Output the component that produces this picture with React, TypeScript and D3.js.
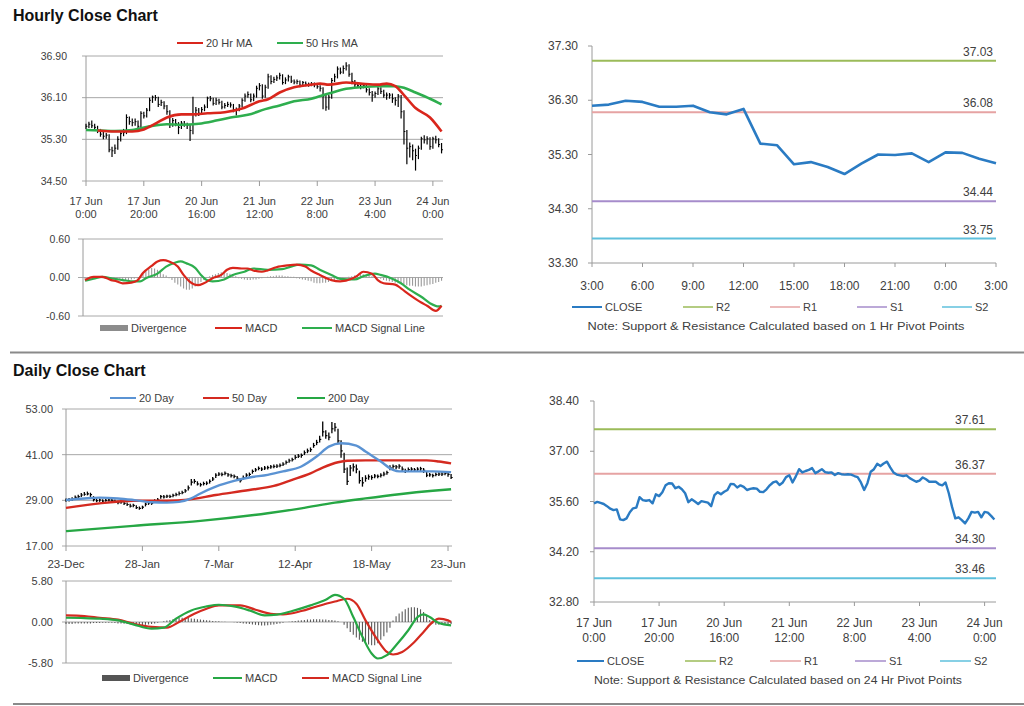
import React from 'react';
import * as d3 from 'd3';

const FONT = "'Liberation Sans', Arial, Helvetica, sans-serif";
const AXIS = '#9a9a9a';
const GRID = '#a8a8a8';
const TEXT = '#404040';

// ---------- Hourly data (17 Jun 0:00 .. 24 Jun 3:00, 124 points) ----------
const hourlyTickIdx = [0, 20, 40, 60, 80, 100, 120];
const hourlyTickTop = ['17 Jun', '17 Jun', '20 Jun', '21 Jun', '22 Jun', '23 Jun', '24 Jun'];
const hourlyTickBottom = ['0:00', '20:00', '16:00', '12:00', '8:00', '4:00', '0:00'];

const hourlyClose = [
  35.55, 35.59, 35.56, 35.53, 35.47, 35.40, 35.36, 35.38, 35.10, 35.08,
  35.13, 35.30, 35.41, 35.43, 35.72, 35.64, 35.62, 35.64, 35.55, 35.80,
  35.75, 35.86, 36.05, 36.11, 36.10, 35.97, 36.01, 35.94, 35.83, 35.58,
  35.66, 35.60, 35.53, 35.61, 35.59, 35.57, 35.47, 35.78, 35.86, 35.80,
  35.87, 35.92, 36.09, 36.08, 35.99, 36.05, 36.01, 35.92, 35.95, 35.97,
  35.96, 35.87, 35.86, 35.94, 36.05, 36.13, 36.16, 36.06, 36.13, 36.28,
  36.33, 36.13, 36.30, 36.50, 36.41, 36.45, 36.48, 36.53, 36.39, 36.44,
  36.50, 36.42, 36.40, 36.41, 36.34, 36.39, 36.36, 36.35, 36.36, 36.35,
  36.31, 36.28, 36.13, 35.92, 36.11, 36.43, 36.50, 36.65, 36.59, 36.66,
  36.71, 36.55, 36.41, 36.35, 36.33, 36.31, 36.33, 36.25, 36.20, 36.15,
  36.18, 36.27, 36.22, 36.15, 36.15, 36.15, 36.08, 36.05, 36.13, 35.83,
  35.45, 35.13, 35.16, 35.08, 34.99, 35.13, 35.31, 35.29, 35.31, 35.16,
  35.31, 35.29, 35.20, 35.10,
];
const hourlyHigh = [
  35.60, 35.64, 35.66, 35.60, 35.56, 35.50, 35.44, 35.42, 35.40, 35.16,
  35.20, 35.36, 35.46, 35.50, 35.78, 35.74, 35.70, 35.70, 35.66, 35.84,
  35.83, 35.90, 36.10, 36.14, 36.15, 36.12, 36.06, 36.03, 35.96, 35.86,
  35.71, 35.69, 35.63, 35.65, 35.65, 35.62, 35.60, 36.12, 35.92, 35.90,
  35.92, 35.97, 36.12, 36.13, 36.10, 36.10, 36.08, 36.04, 36.00, 36.02,
  36.01, 35.98, 35.91, 35.98, 36.09, 36.18, 36.22, 36.18, 36.18, 36.33,
  36.38, 36.36, 36.35, 36.56, 36.53, 36.50, 36.53, 36.58, 36.55, 36.49,
  36.54, 36.52, 36.45, 36.45, 36.43, 36.42, 36.41, 36.39, 36.40, 36.39,
  36.37, 36.34, 36.30, 36.15, 36.15, 36.48, 36.56, 36.70, 36.68, 36.72,
  36.78, 36.74, 36.58, 36.44, 36.38, 36.36, 36.37, 36.35, 36.28, 36.23,
  36.22, 36.31, 36.30, 36.25, 36.20, 36.19, 36.18, 36.11, 36.17, 36.15,
  35.86, 35.48, 35.24, 35.20, 35.12, 35.18, 35.35, 35.38, 35.36, 35.34,
  35.35, 35.37, 35.32, 35.23,
];
const hourlyLow = [
  35.50, 35.52, 35.52, 35.49, 35.42, 35.35, 35.30, 35.31, 35.05, 34.96,
  35.02, 35.10, 35.26, 35.36, 35.40, 35.58, 35.55, 35.56, 35.48, 35.52,
  35.70, 35.72, 35.84, 36.00, 36.04, 35.92, 35.94, 35.88, 35.77, 35.52,
  35.54, 35.55, 35.40, 35.50, 35.54, 35.50, 35.27, 35.40, 35.74, 35.75,
  35.77, 35.84, 35.90, 36.03, 35.95, 35.96, 35.97, 35.88, 35.89, 35.92,
  35.91, 35.82, 35.76, 35.84, 35.92, 36.02, 36.10, 36.01, 36.03, 36.10,
  36.24, 36.08, 36.10, 36.27, 36.36, 36.38, 36.42, 36.45, 36.35, 36.36,
  36.41, 36.38, 36.36, 36.36, 36.30, 36.31, 36.32, 36.31, 36.32, 36.30,
  36.27, 36.22, 35.88, 35.85, 35.87, 36.08, 36.40, 36.47, 36.55, 36.56,
  36.62, 36.50, 36.36, 36.30, 36.29, 36.26, 36.28, 36.20, 36.14, 36.02,
  36.10, 36.15, 36.17, 36.10, 36.06, 36.08, 36.00, 35.95, 35.92, 35.70,
  35.20, 34.82, 34.95, 34.90, 34.70, 34.92, 35.10, 35.22, 35.20, 35.10,
  35.12, 35.22, 35.15, 35.03,
];

const ma20hIdx = [4, 10, 16, 20, 24, 28, 33, 37, 42, 48, 54, 60, 63, 67, 72, 78, 81, 84, 90, 95, 101, 104, 107, 110, 114, 119, 123];
const ma20hVal = [35.47, 35.45, 35.45, 35.49, 35.60, 35.72, 35.78, 35.78, 35.80, 35.82, 35.89, 36.03, 36.07, 36.20, 36.30, 36.35, 36.37, 36.35, 36.39, 36.37, 36.35, 36.37, 36.32, 36.15, 35.90, 35.72, 35.45];
const ma50hIdx = [0, 5, 10, 16, 22, 28, 33, 39, 45, 50, 56, 62, 67, 72, 78, 84, 90, 95, 101, 107, 110, 114, 119, 123];
const ma50hVal = [35.48, 35.47, 35.46, 35.48, 35.55, 35.59, 35.58, 35.60, 35.66, 35.72, 35.77, 35.88, 35.95, 36.03, 36.08, 36.18, 36.27, 36.30, 36.32, 36.32, 36.29, 36.20, 36.08, 35.97];

const hMacdIdx = [0, 3, 6, 9, 11, 13, 16, 18, 20, 23, 25, 27, 29, 32, 34, 36, 39, 41, 44, 47, 49, 51, 54, 56, 58, 61, 63, 66, 70, 73, 76, 78, 81, 85, 88, 92, 94, 96, 99, 101, 103, 107, 109, 112, 116, 118, 121, 123];
const hMacdVal = [-0.04, 0.01, 0.01, -0.04, -0.06, -0.09, -0.08, -0.05, 0.07, 0.18, 0.25, 0.27, 0.25, 0.17, 0.04, -0.06, -0.12, -0.09, -0.01, 0.04, 0.12, 0.15, 0.14, 0.14, 0.11, 0.09, 0.11, 0.16, 0.19, 0.20, 0.17, 0.11, 0.04, -0.04, -0.06, -0.02, 0.03, 0.09, 0.06, -0.04, -0.09, -0.11, -0.17, -0.27, -0.39, -0.44, -0.52, -0.44];
const hSigIdx = [0, 3, 6, 10, 13, 17, 19, 21, 25, 28, 31, 33, 35, 38, 40, 42, 44, 48, 51, 55, 58, 63, 68, 71, 74, 78, 81, 85, 88, 93, 96, 100, 102, 106, 109, 112, 116, 119, 122, 123];
const hSigVal = [-0.05, -0.02, 0.01, -0.02, -0.04, -0.06, -0.06, -0.01, 0.06, 0.17, 0.23, 0.25, 0.22, 0.15, 0.04, -0.04, -0.06, -0.03, 0.04, 0.09, 0.14, 0.12, 0.13, 0.17, 0.20, 0.19, 0.12, 0.04, -0.02, -0.03, 0.02, 0.06, 0.04, -0.02, -0.09, -0.19, -0.30, -0.40, -0.45, -0.44];
const hDiv = [
  -0.02, -0.02, -0.01, -0.01, 0, 0,
  -0.01, -0.02, -0.02, -0.03, -0.03, -0.03, -0.02,
  -0.03, -0.04, -0.04, -0.03, -0.02, -0.01,
  0.02, 0.06, 0.10, 0.13, 0.15, 0.14, 0.12, 0.08, 0.05, 0.03,
  -0.01, -0.04, -0.08, -0.11, -0.14, -0.17, -0.19, -0.19, -0.17, -0.14, -0.10, -0.07, -0.04,
  0, 0.02, 0.04, 0.05, 0.07, 0.08, 0.08, 0.07, 0.06, 0.04, 0.02,
  -0.01, -0.02, -0.03, -0.04, -0.04, -0.03, -0.03, -0.02, -0.01, 0,
  0.01, 0.02, 0.02, 0.03, 0.03, 0.03, 0.02, 0.02, 0.01, 0.01,
  -0.01, -0.02, -0.03, -0.04, -0.05, -0.06, -0.08, -0.09, -0.09, -0.08, -0.08, -0.07, -0.05, -0.04, -0.03, -0.02, -0.01, 0,
  0.01, 0.02, 0.03, 0.04, 0.05, 0.05, 0.04, 0.03, 0.02, 0.01,
  -0.01, -0.02, -0.04, -0.05, -0.06, -0.07, -0.08, -0.09, -0.10, -0.11, -0.12, -0.13, -0.13, -0.14, -0.14, -0.14, -0.13, -0.12, -0.11, -0.10, -0.08, -0.07, -0.05,
];

// ---------- Last 24 hours (3:00 .. 3:00) ----------
const dayHourLabels = ['3:00', '6:00', '9:00', '12:00', '15:00', '18:00', '21:00', '0:00', '3:00'];
const last24Close = [36.20, 36.22, 36.29, 36.27, 36.18, 36.18, 36.20, 36.08, 36.04, 36.14, 35.50, 35.47, 35.12, 35.16, 35.07, 34.94, 35.13, 35.30, 35.29, 35.32, 35.16, 35.34, 35.33, 35.22, 35.14];
const pivotNames = ['R2', 'R1', 'S1', 'S2'];
const pivotColors = ['#9bbb59', '#e6a3a3', '#a68ccb', '#5fc0dc'];
const pivots1h = [37.03, 36.08, 34.44, 33.75];
const pivots24h = [37.61, 36.37, 34.30, 33.46];

// ---------- Daily data (23-Dec .. 24-Jun, 127 points) ----------
const dailyTickIdx = [0, 25, 50, 75, 100, 125];
const dailyTickLabels = ['23-Dec', '28-Jan', '7-Mar', '12-Apr', '18-May', '23-Jun'];
const dailyClose = [
  29.0, 29.1, 29.3, 29.8, 30.0, 30.4, 30.6, 30.7, 30.5, 29.2,
  28.9, 29.1, 28.8, 29.0, 29.1, 29.0, 28.7, 28.4, 28.6, 28.2,
  27.9, 27.5, 27.7, 27.1, 26.9, 27.2, 28.0, 28.3, 28.2, 28.9,
  29.1, 30.0, 29.9, 30.1, 30.0, 30.3, 30.5, 30.8, 31.0, 31.5,
  32.3, 33.8, 34.0, 33.3, 33.1, 33.4, 33.5, 34.0, 34.6, 35.6,
  35.9, 35.8, 36.1, 35.7, 35.5, 35.3, 34.8, 34.2, 35.0, 35.6,
  35.8, 36.6, 37.0, 37.4, 37.2, 37.5, 37.6, 37.8, 37.9, 38.0,
  38.2, 38.5, 39.0, 39.4, 39.7, 40.3, 40.6, 40.8, 41.5, 42.0,
  42.3, 43.4, 44.2, 45.0, 47.0, 46.0, 45.6, 47.8, 48.2, 44.6,
  42.0, 37.2, 34.0, 37.5, 37.8, 37.2, 34.2, 33.6, 34.8, 35.2,
  35.0, 35.4, 35.3, 35.6, 35.9, 36.3, 37.6, 37.9, 37.8, 38.0,
  37.2, 36.7, 37.1, 37.2, 37.0, 37.2, 37.3, 36.9, 35.6, 35.7,
  35.5, 35.8, 35.9, 35.9, 36.1, 35.8, 35.0,
];
const dailyHigh = [
  29.5, 29.6, 29.8, 30.3, 30.5, 30.9, 31.2, 31.3, 31.0, 30.1,
  29.5, 29.5, 29.3, 29.4, 29.6, 29.4, 29.2, 28.9, 29.0, 28.8,
  28.4, 28.1, 28.1, 27.7, 27.4, 27.6, 28.4, 28.7, 28.7, 29.3,
  29.6, 30.4, 30.4, 30.5, 30.5, 30.7, 31.0, 31.3, 31.5, 32.0,
  32.9, 34.6, 34.6, 34.0, 33.6, 33.9, 34.0, 34.5, 35.1, 36.1,
  36.4, 36.3, 36.6, 36.2, 36.0, 35.8, 35.4, 34.9, 35.5, 36.1,
  36.3, 37.1, 37.5, 37.9, 37.7, 38.0, 38.1, 38.3, 38.4, 38.5,
  38.7, 39.0, 39.5, 39.9, 40.2, 40.9, 41.2, 41.3, 42.1, 42.6,
  42.9, 44.1, 44.9, 46.0, 49.7, 47.4, 46.8, 49.6, 49.3, 47.8,
  44.8, 41.5, 37.6, 38.3, 38.7, 38.4, 36.8, 35.1, 35.6, 35.8,
  35.6, 35.9, 35.8, 36.1, 36.5, 36.8, 38.2, 38.4, 38.3, 38.5,
  37.9, 37.3, 37.6, 37.7, 37.5, 37.7, 37.8, 37.5, 36.5, 36.2,
  36.0, 36.3, 36.4, 36.4, 36.6, 36.3, 35.9,
];
const dailyLow = [
  28.6, 28.7, 28.9, 29.3, 29.6, 29.9, 30.2, 30.3, 29.9, 28.7,
  28.5, 28.6, 28.4, 28.6, 28.7, 28.5, 28.3, 28.0, 28.1, 27.8,
  27.5, 27.1, 27.2, 26.7, 26.5, 26.7, 27.4, 27.8, 27.8, 28.4,
  28.7, 29.4, 29.5, 29.6, 29.6, 29.8, 30.1, 30.3, 30.6, 31.0,
  31.6, 32.9, 33.4, 32.9, 32.6, 32.9, 33.0, 33.4, 34.1, 34.9,
  35.4, 35.3, 35.6, 35.2, 35.0, 34.8, 34.3, 33.7, 34.4, 35.0,
  35.3, 36.0, 36.5, 36.9, 36.7, 37.0, 37.1, 37.3, 37.4, 37.5,
  37.7, 38.0, 38.4, 38.9, 39.2, 39.7, 40.1, 40.2, 40.9, 41.4,
  41.7, 42.8, 43.5, 44.2, 45.8, 45.2, 44.8, 46.6, 47.1, 43.8,
  40.2, 36.2, 33.0, 35.4, 36.6, 36.1, 33.4, 32.6, 33.9, 34.4,
  34.4, 34.8, 34.8, 35.0, 35.3, 35.7, 36.9, 37.3, 37.2, 37.3,
  36.6, 36.2, 36.6, 36.7, 36.5, 36.7, 36.7, 36.2, 35.1, 35.2,
  35.0, 35.3, 35.4, 35.4, 35.6, 35.2, 34.6,
];
const ma20dIdx = [0, 6, 11, 17, 22, 28, 33, 37, 41, 44, 49, 55, 60, 66, 71, 77, 82, 86, 90, 95, 98, 103, 107, 109, 115, 120, 126];
const ma20dVal = [29.1, 29.5, 29.7, 29.5, 29.1, 28.5, 28.4, 28.6, 29.5, 30.8, 32.6, 34.1, 35.0, 35.7, 36.6, 37.9, 40.5, 43.1, 44.0, 43.4, 41.8, 39.2, 37.0, 36.6, 36.6, 36.6, 36.4];
const ma50dIdx = [0, 11, 22, 33, 40, 49, 60, 68, 74, 80, 84, 89, 92, 98, 109, 118, 122, 126];
const ma50dVal = [27.0, 28.2, 28.9, 28.9, 29.2, 30.4, 31.7, 32.8, 34.4, 36.1, 37.6, 39.0, 39.4, 39.5, 39.5, 39.5, 39.2, 38.7];
const ma200dIdx = [0, 22, 44, 66, 77, 88, 98, 109, 120, 126];
const ma200dVal = [20.9, 22.3, 23.6, 25.6, 26.9, 28.4, 29.5, 30.6, 31.5, 31.9];

const dMacdIdx = [0, 6, 11, 17, 22, 28, 32, 36, 41, 46, 50, 55, 60, 65, 69, 74, 80, 85, 88, 91, 94, 97, 100, 102, 105, 108, 112, 115, 117, 119, 122, 126];
const dMacdVal = [0.6, 0.56, 0.47, 0.23, -0.33, -0.94, -0.8, 0.47, 1.64, 2.2, 2.44, 2.2, 1.64, 0.94, 1.03, 1.55, 2.35, 3.15, 3.85, 3.29, 0.7, -2.1, -4.46, -5.16, -4.7, -3.29, -1.17, 0.7, 1.08, 0.7, -0.14, -0.47];
const dSigIdx = [0, 6, 11, 17, 22, 28, 33, 37, 42, 46, 50, 57, 62, 67, 71, 77, 82, 88, 92, 95, 98, 102, 105, 107, 110, 114, 117, 120, 122, 125, 126];
const dSigVal = [0.94, 0.85, 0.6, 0.33, -0.23, -0.7, -0.8, 0, 1.17, 1.88, 2.35, 2.35, 1.74, 1.17, 1.08, 1.55, 2.2, 2.9, 3.29, 2.58, 0.23, -2.58, -4.23, -4.6, -4.23, -2.82, -1.4, 0, 0.47, 0.23, 0.0];
const dDiv = [
  -0.3, -0.3, -0.3, -0.2, -0.2, -0.2, -0.2, -0.2, -0.2, -0.15, -0.15,
  -0.15, -0.1, -0.1, -0.1, -0.1, -0.15, -0.2, -0.2, -0.25, -0.3, -0.35, -0.4, -0.4, -0.45, -0.45, -0.4, -0.35, -0.3,
  -0.2, -0.1, 0, 0.1,
  0.2, 0.3, 0.4, 0.5, 0.55, 0.6, 0.6, 0.55, 0.5, 0.45, 0.4, 0.35, 0.3, 0.25, 0.2, 0.15,
  0.1, 0.1, 0.05, 0.05, 0, 0, -0.05, -0.1, -0.15, -0.2,
  -0.25, -0.3, -0.35, -0.4, -0.45, -0.5, -0.5, -0.45, -0.4, -0.35, -0.3, -0.2, -0.1, 0,
  0.05, 0.1, 0.15, 0.2, 0.25, 0.3, 0.35, 0.35, 0.4, 0.4, 0.4, 0.35, 0.35, 0.3, 0.3, 0.2, 0.1, 0,
  -0.4, -0.9, -1.4, -1.8, -2.2, -2.5, -2.8, -3.0, -3.2, -3.3, -3.3, -3.0, -2.5, -2.0, -1.5, -0.8,
  0.2, 0.8, 1.2, 1.5, 1.8, 2.0, 2.1, 2.1, 2.0, 1.8, 1.4, 0.9,
  0.3, -0.2, -0.4, -0.4, -0.4, -0.4, -0.3, -0.3,
];

// tick values
const hPriceTicks = [34.5, 35.3, 36.1, 36.9];
const hMacdTicks = [-0.6, 0, 0.6];
const c1Ticks = [33.3, 34.3, 35.3, 36.3, 37.3];
const dPriceTicks = [17, 29, 41, 53];
const dMacdTicks = [-5.8, 0, 5.8];
const c2Ticks = [32.8, 34.2, 35.6, 37.0, 38.4];

type Pt = [number, number];
const zip = (a: number[], b: number[]): Pt[] => a.slice(0, Math.min(a.length, b.length)).map((v, i) => [v, b[i]] as Pt);
const seq = (vals: number[]): Pt[] => vals.map((v, i) => [i, v] as Pt);

function linePath(pts: Pt[], x: any, y: any, smooth: boolean) {
  const g = d3.line<Pt>().x((d) => x(d[0])).y((d) => y(d[1]));
  if (smooth) g.curve(d3.curveMonotoneX);
  return g(pts) || '';
}

function LegendLine({ x, y, w, color, label, sw = 2, fs = 11 }: any) {
  return (
    <g>
      <line x1={x} x2={x + w} y1={y} y2={y} stroke={color} strokeWidth={sw} />
      <text x={x + w + 3} y={y} dy="0.35em" fontSize={fs} fill={TEXT}>{label}</text>
    </g>
  );
}

export default function App() {
  // ---- Panel A: hourly price ----
  const xA = d3.scaleLinear().domain([0, 123.5]).range([86, 443]);
  const yA = d3.scaleLinear().domain([34.5, 36.9]).range([181, 56]);
  // ---- Panel B: hourly MACD ----
  const xB = d3.scaleLinear().domain([0, 123.5]).range([85, 443]);
  const yB = d3.scaleLinear().domain([-0.6, 0.6]).range([316, 239]);
  // ---- Panel C: last 24h ----
  const xC = d3.scaleLinear().domain([0, 24]).range([592, 996]);
  const yC = d3.scaleLinear().domain([33.3, 37.3]).range([263, 46]);
  // ---- Panel D: daily price ----
  const xD = d3.scaleLinear().domain([0, 126.3]).range([66, 452]);
  const yD = d3.scaleLinear().domain([17, 53]).range([546, 409]);
  // ---- Panel E: daily MACD ----
  const yE = d3.scaleLinear().domain([-5.8, 5.8]).range([663, 581]);
  // ---- Panel F: hourly close with 24h pivots ----
  const xF = d3.scaleLinear().domain([0, 123.5]).range([594, 996]);
  const yF = d3.scaleLinear().domain([32.8, 38.4]).range([602, 401]);

  const nH = Math.min(hourlyClose.length, hourlyHigh.length, hourlyLow.length);
  const nD = Math.min(dailyClose.length, dailyHigh.length, dailyLow.length);

  return (
    <svg width={1024} height={706} style={{ position: 'absolute', left: 0, top: 0, background: '#fff', fontFamily: FONT }}>
      <rect x={0} y={0} width={1024} height={706} fill="#fff" />

      {/* ===== Titles & dividers ===== */}
      <text x={13} y={21} fontSize={16} fontWeight="bold" fill="#111">Hourly Close Chart</text>
      <text x={13} y={376} fontSize={16} fontWeight="bold" fill="#111">Daily Close Chart</text>
      <line x1={10} x2={1024} y1={352.5} y2={352.5} stroke="#8a8a8a" strokeWidth={2} />
      <line x1={13} x2={1024} y1={704} y2={704} stroke="#8a8a8a" strokeWidth={2} />

      {/* ===== Panel A ===== */}
      <g>
        <LegendLine x={177} y={43} w={26} color="#d9261c" label="20 Hr MA" sw={2} />
        <LegendLine x={277} y={43} w={26} color="#2eae4e" label="50 Hrs MA" sw={2} />
        {hPriceTicks.map((t) => (
          <g key={t}>
            <line x1={82} x2={443} y1={yA(t)} y2={yA(t)} stroke={GRID} strokeWidth={1} />
            <text x={67} y={yA(t)} dy="0.35em" textAnchor="end" fontSize={10.5} fill={TEXT}>{t.toFixed(2)}</text>
          </g>
        ))}
        <line x1={86} x2={86} y1={56} y2={181} stroke={AXIS} />
        {hourlyTickIdx.map((i, k) => (
          <g key={i}>
            <line x1={xA(i)} x2={xA(i)} y1={181} y2={186} stroke={AXIS} />
            <text x={xA(i)} y={205} textAnchor="middle" fontSize={11} fill={TEXT}>{hourlyTickTop[k]}</text>
            <text x={xA(i)} y={218} textAnchor="middle" fontSize={11} fill={TEXT}>{hourlyTickBottom[k]}</text>
          </g>
        ))}
        {d3.range(nH).map((i) => (
          <g key={i}>
            <line x1={xA(i)} x2={xA(i)} y1={yA(hourlyHigh[i])} y2={yA(hourlyLow[i])} stroke="#000" strokeWidth={1.2} />
            <line x1={xA(i)} x2={xA(i) + 1.4} y1={yA(hourlyClose[i])} y2={yA(hourlyClose[i])} stroke="#000" strokeWidth={1} />
          </g>
        ))}
        <path d={linePath(zip(ma50hIdx, ma50hVal), xA, yA, true)} fill="none" stroke="#2eae4e" strokeWidth={2.6} />
        <path d={linePath(zip(ma20hIdx, ma20hVal), xA, yA, true)} fill="none" stroke="#d9261c" strokeWidth={2.6} />
      </g>

      {/* ===== Panel B ===== */}
      <g>
        {hMacdTicks.map((t) => (
          <g key={t}>
            <line x1={78} x2={443} y1={yB(t)} y2={yB(t)} stroke={GRID} />
            <text x={70} y={yB(t)} dy="0.35em" textAnchor="end" fontSize={10.5} fill={TEXT}>{t.toFixed(2)}</text>
          </g>
        ))}
        <line x1={83} x2={83} y1={239} y2={316} stroke={AXIS} />
        {hDiv.map((v, i) => (
          <line key={i} x1={xB(i)} x2={xB(i)} y1={yB(0)} y2={yB(v)} stroke="#9a9a9a" strokeWidth={1.1} />
        ))}
        <path d={linePath(zip(hSigIdx, hSigVal), xB, yB, true)} fill="none" stroke="#2eae4e" strokeWidth={2.2} />
        <path d={linePath(zip(hMacdIdx, hMacdVal), xB, yB, true)} fill="none" stroke="#d9261c" strokeWidth={2.2} />
        <rect x={100} y={325} width={28} height={6} fill="#8c8c8c" />
        <text x={131} y={328} dy="0.35em" fontSize={11} fill={TEXT}>Divergence</text>
        <LegendLine x={215} y={328} w={27} color="#d9261c" label="MACD" />
        <LegendLine x={302} y={328} w={30} color="#2eae4e" label="MACD Signal Line" />
      </g>

      {/* ===== Panel C ===== */}
      <g>
        <line x1={592} x2={592} y1={46} y2={263} stroke={AXIS} />
        <line x1={592} x2={996} y1={263} y2={263} stroke={AXIS} />
        {c1Ticks.map((t) => (
          <g key={t}>
            <line x1={588} x2={592} y1={yC(t)} y2={yC(t)} stroke={AXIS} />
            <text x={578} y={yC(t)} dy="0.35em" textAnchor="end" fontSize={12} fill={TEXT}>{t.toFixed(2)}</text>
          </g>
        ))}
        {dayHourLabels.map((l, k) => (
          <g key={k}>
            <line x1={xC(k * 3)} x2={xC(k * 3)} y1={263} y2={267} stroke={AXIS} />
            <text x={xC(k * 3)} y={290} textAnchor="middle" fontSize={12} fill={TEXT}>{l}</text>
          </g>
        ))}
        {pivots1h.map((v, k) => (
          <g key={k}>
            <line x1={592} x2={996} y1={yC(v)} y2={yC(v)} stroke={pivotColors[k]} strokeWidth={2} />
            <text x={993} y={yC(v) - 5} textAnchor="end" fontSize={12} fill={TEXT}>{v.toFixed(2)}</text>
          </g>
        ))}
        <path d={linePath(seq(last24Close), xC, yC, false)} fill="none" stroke="#2a7bc3" strokeWidth={2.6} strokeLinejoin="round" />
        <LegendLine x={572} y={307} w={30} color="#2a7bc3" label="CLOSE" sw={2} />
        {pivotNames.map((n, k) => (
          <LegendLine key={n} x={[683, 770, 857, 942][k]} y={307} w={30} color={pivotColors[k]} label={n} sw={1.5} />
        ))}
        <text x={776} y={326} dy="0.35em" textAnchor="middle" fontSize={11.5} fill={TEXT} textLength={377} lengthAdjust="spacingAndGlyphs">Note: Support &amp; Resistance Calculated based on 1 Hr Pivot Points</text>
      </g>

      {/* ===== Panel D ===== */}
      <g>
        <LegendLine x={110} y={398} w={26} color="#5b93d3" label="20 Day" />
        <LegendLine x={203} y={398} w={26} color="#d42a20" label="50 Day" />
        <LegendLine x={297} y={398} w={28} color="#26a744" label="200 Day" />
        {dPriceTicks.map((t) => (
          <g key={t}>
            <line x1={62} x2={452} y1={yD(t)} y2={yD(t)} stroke={GRID} />
            <text x={53} y={yD(t)} dy="0.35em" textAnchor="end" fontSize={11} fill={TEXT}>{t.toFixed(2)}</text>
          </g>
        ))}
        <line x1={66} x2={66} y1={409} y2={546} stroke={AXIS} />
        {dailyTickIdx.map((i, k) => (
          <g key={i}>
            <line x1={xD(i)} x2={xD(i)} y1={546} y2={551} stroke={AXIS} />
            <text x={xD(i)} y={568} textAnchor="middle" fontSize={11.5} fill={TEXT}>{dailyTickLabels[k]}</text>
          </g>
        ))}
        <path d={linePath(zip(ma200dIdx, ma200dVal), xD, yD, true)} fill="none" stroke="#26a744" strokeWidth={2.4} />
        {d3.range(nD).map((i) => (
          <g key={i}>
            <line x1={xD(i)} x2={xD(i)} y1={yD(dailyHigh[i])} y2={yD(dailyLow[i])} stroke="#000" strokeWidth={1.3} />
            <line x1={xD(i)} x2={xD(i) + 1.6} y1={yD(dailyClose[i])} y2={yD(dailyClose[i])} stroke="#000" strokeWidth={1.2} />
          </g>
        ))}
        <path d={linePath(zip(ma50dIdx, ma50dVal), xD, yD, true)} fill="none" stroke="#d42a20" strokeWidth={2.4} />
        <path d={linePath(zip(ma20dIdx, ma20dVal), xD, yD, true)} fill="none" stroke="#5b93d3" strokeWidth={2.4} />
      </g>

      {/* ===== Panel E ===== */}
      <g>
        {dMacdTicks.map((t) => (
          <g key={t}>
            <line x1={62} x2={452} y1={yE(t)} y2={yE(t)} stroke={GRID} />
            <text x={53} y={yE(t)} dy="0.35em" textAnchor="end" fontSize={11} fill={TEXT}>{t.toFixed(2)}</text>
          </g>
        ))}
        <line x1={66} x2={66} y1={581} y2={663} stroke={AXIS} />
        {dDiv.map((v, i) => (
          <line key={i} x1={xD(i)} x2={xD(i)} y1={yE(0)} y2={yE(v)} stroke="#5a5a5a" strokeWidth={1.1} />
        ))}
        <path d={linePath(zip(dSigIdx, dSigVal), xD, yE, true)} fill="none" stroke="#d42a20" strokeWidth={2.2} />
        <path d={linePath(zip(dMacdIdx, dMacdVal), xD, yE, true)} fill="none" stroke="#26a744" strokeWidth={2.2} />
        <rect x={102} y={675} width={28} height={6} fill="#555" />
        <text x={133} y={678} dy="0.35em" fontSize={11} fill={TEXT}>Divergence</text>
        <LegendLine x={213} y={678} w={29} color="#26a744" label="MACD" />
        <LegendLine x={302} y={678} w={27} color="#d42a20" label="MACD Signal Line" />
      </g>

      {/* ===== Panel F ===== */}
      <g>
        <line x1={594} x2={594} y1={401} y2={602} stroke={AXIS} />
        <line x1={594} x2={996} y1={602} y2={602} stroke={AXIS} />
        {c2Ticks.map((t) => (
          <g key={t}>
            <line x1={590} x2={594} y1={yF(t)} y2={yF(t)} stroke={AXIS} />
            <text x={579} y={yF(t)} dy="0.35em" textAnchor="end" fontSize={12} fill={TEXT}>{t.toFixed(2)}</text>
          </g>
        ))}
        {hourlyTickIdx.map((i, k) => (
          <g key={i}>
            <line x1={xF(i)} x2={xF(i)} y1={602} y2={606} stroke={AXIS} />
            <text x={xF(i)} y={627} textAnchor="middle" fontSize={12} fill={TEXT}>{hourlyTickTop[k]}</text>
            <text x={xF(i)} y={642} textAnchor="middle" fontSize={12} fill={TEXT}>{hourlyTickBottom[k]}</text>
          </g>
        ))}
        {pivots24h.map((v, k) => (
          <g key={k}>
            <line x1={594} x2={996} y1={yF(v)} y2={yF(v)} stroke={pivotColors[k]} strokeWidth={2} />
            <text x={985} y={yF(v) - 5} textAnchor="end" fontSize={12} fill={TEXT}>{v.toFixed(2)}</text>
          </g>
        ))}
        <path d={linePath(seq(hourlyClose), xF, yF, false)} fill="none" stroke="#2a7bc3" strokeWidth={2.4} strokeLinejoin="round" />
        <LegendLine x={577} y={661} w={27} color="#2a7bc3" label="CLOSE" sw={2} />
        {pivotNames.map((n, k) => (
          <LegendLine key={n} x={[685, 770, 855, 940][k]} y={661} w={31} color={pivotColors[k]} label={n} sw={1.5} />
        ))}
        <text x={778} y={680} dy="0.35em" textAnchor="middle" fontSize={11.5} fill={TEXT} textLength={368} lengthAdjust="spacingAndGlyphs">Note: Support &amp; Resistance Calculated based on 24 Hr Pivot Points</text>
      </g>
    </svg>
  );
}
